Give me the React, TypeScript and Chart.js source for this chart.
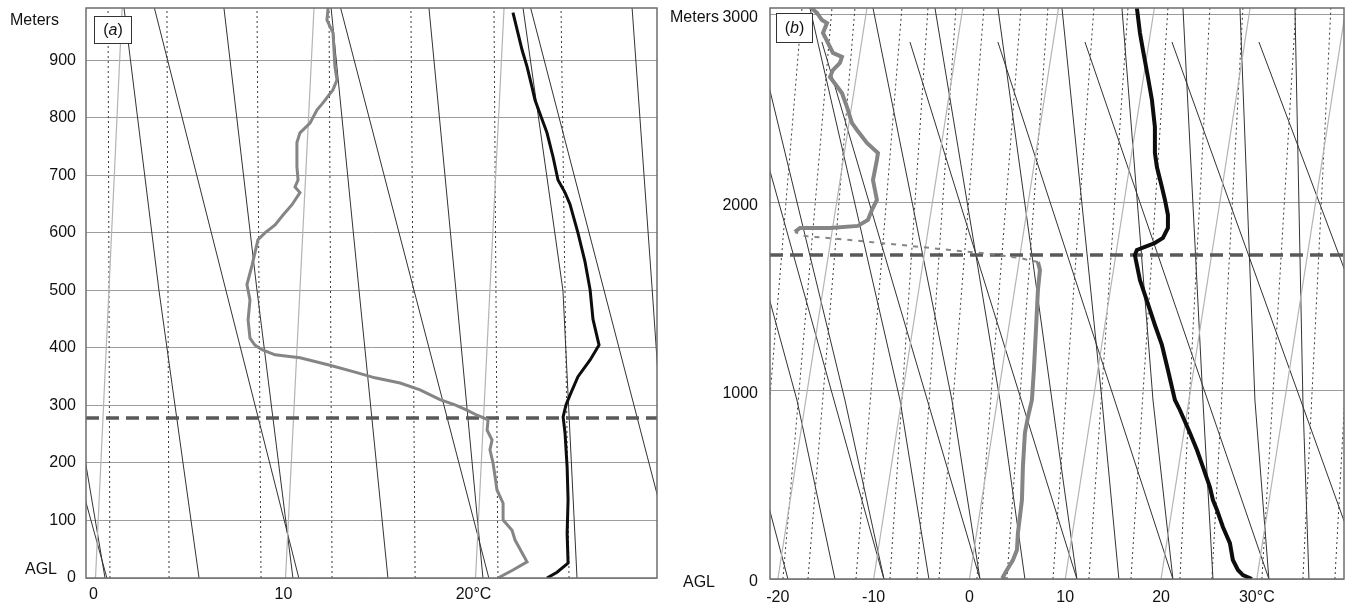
import React, { useEffect, useRef } from "react";
import { Chart, registerables } from "chart.js";

Chart.register(...registerables);

const FONT = "'Liberation Sans', Arial, Helvetica, sans-serif";

// ---------------- Panel (a) ----------------
const xMinA = -0.5;
const xMaxA = 29.55;
const yMaxA = 991;
const mixedLayerA = 278;
const xTicksA = [0, 10, 20];
const yTicksA = [0, 100, 200, 300, 400, 500, 600, 700, 800, 900];

const tempHA = [0, 10, 26, 78, 136, 193, 252, 280, 301, 318, 350, 379, 405, 450, 501, 550, 600, 650, 670, 692, 732, 774, 802, 831, 854, 889, 918, 983];
const tempA = [23.76, 24.29, 24.87, 24.82, 24.87, 24.82, 24.71, 24.61, 24.76, 24.97, 25.39, 26.03, 26.5, 26.18, 26.03, 25.76, 25.39, 24.97, 24.71, 24.34, 24.08, 23.76, 23.45, 23.13, 22.97, 22.71, 22.45, 21.97];

const dewHA = [0, 14, 28, 66, 83, 101, 130, 153, 176, 200, 223, 240, 257, 275, 283, 292, 301, 310, 327, 339, 348, 358, 370, 383, 388, 397, 405, 417, 449, 483, 510, 544, 588, 600, 614, 631, 649, 670, 680, 692, 715, 757, 774, 791, 814, 826, 849, 866, 889, 948, 970, 991];
const dewA = [21.18, 21.97, 22.71, 22.08, 21.92, 21.45, 21.45, 21.13, 21.03, 20.92, 20.76, 20.87, 20.61, 20.66, 20.08, 19.55, 18.92, 18.13, 17.08, 16.03, 14.71, 13.66, 12.34, 10.76, 9.45, 8.76, 8.39, 8.13, 8.03, 8.13, 7.97, 8.24, 8.55, 8.92, 9.45, 9.87, 10.34, 10.76, 10.5, 10.66, 10.6, 10.6, 10.76, 11.29, 11.66, 11.97, 12.5, 12.71, 12.6, 12.5, 12.18, 12.24];

const isoBottomA = [0, 10, 20];
const isoTopA = [1.4, 11.5, 21.5];
const mixBottomA = [0.76, 3.87, 8.71, 12.45, 16.82, 21.18, 24.92];
const mixTopA = [0.66, 3.76, 8.5, 12.29, 16.6, 20.97, 24.5];
const dryBottomA = [0.6, 10.7, 20.7, 30.7];
const dryTopA = [-7.7, 3.1, 12.9, 22.9];
const moistMidHA = 500;
const moistBottomA = [0.5, 5.45, 10.39, 15.39, 20.39, 25.34, 30.34];
const moistMidA = [-2.05, 3.34, 8.5, 13.87, 18.97, 24.6, 29.3];
const moistTopA = [-4.6, 1.5, 6.76, 12.4, 17.55, 22.5, 28.24];

// ---------------- Panel (b) ----------------
const xMinB = -20.82;
const xMaxB = 39.1;
const yMaxB = 3037;
const mixedLayerB = 1723;
const xTicksB = [-20, -10, 0, 10, 20, 30];
const yTicksB = [0, 1000, 2000, 3000];

const tempHB = [0, 21, 48, 101, 191, 277, 367, 420, 489, 596, 686, 777, 899, 952, 1112, 1245, 1351, 1431, 1511, 1590, 1670, 1723, 1750, 1766, 1787, 1814, 1867, 1936, 2016, 2085, 2191, 2266, 2404, 2548, 2670, 2814, 2904, 3037];
const tempB = [29.49, 28.55, 28.03, 27.5, 27.19, 26.46, 25.84, 25.42, 25.1, 24.37, 23.75, 23.02, 21.97, 21.45, 20.72, 20.09, 19.36, 18.84, 18.32, 17.8, 17.48, 17.27, 17.48, 18.32, 19.36, 20.2, 20.72, 20.72, 20.41, 20.09, 19.57, 19.36, 19.36, 19.05, 18.63, 18.11, 17.8, 17.48];

const dewHB = [0, 11, 48, 101, 154, 245, 420, 596, 777, 862, 952, 1112, 1324, 1537, 1644, 1686, 1707, 1729, 1750, 1777, 1803, 1824, 1846, 1867, 1867, 1878, 1910, 1963, 2016, 2122, 2229, 2266, 2319, 2388, 2426, 2511, 2585, 2670, 2707, 2745, 2777, 2798, 2851, 2904, 2957, 2973, 3011, 3037];
const dewB = [3.71, 3.5, 3.91, 4.54, 4.96, 5.06, 5.48, 5.58, 5.79, 6.11, 6.52, 6.73, 6.94, 7.15, 7.36, 7.15, 5.27, 2.14, -2.04, -7.25, -12.47, -17.17, -18.22, -17.69, -14.56, -11.64, -10.6, -10.18, -9.66, -10.07, -9.66, -9.55, -10.7, -11.74, -12.27, -12.79, -13.31, -14.56, -14.25, -13.52, -13.31, -14.25, -14.77, -15.29, -14.87, -15.4, -15.92, -16.5];

const isoBottomB = [-20, -10, 0, 10, 20, 30];
const isoTopB = [-10.7, -0.7, 9.3, 19.3, 29.3, 39.3];
const mixBottomB = [-22.39, -19.47, -16.86, -11.85, -8.3, -5.48, -3.18, 0.78, 3.91, 8.72, 12.47, 16.86, 21.97, 25.31, 30.53, 34.81, 38.15];
const mixTopB = [-17.48, -14.35, -11.95, -7.05, -4.33, -1.41, 1.51, 5.38, 8.19, 12.99, 16.55, 20.72, 25.1, 28.55, 34.08, 37.73, 41.4];
const dryTopHB = 2856;
const dryBottomB = [-18.95, -8.93, 1.1, 11.22, 21.24, 31.26, 41.28, 51.3];
const dryTopB = [-33.77, -24.58, -15.4, -6.21, 2.97, 12.06, 21.14, 30.22];
const moistMidHB = 952;
const moistBottomB = [-14.04, -8.92, -4.23, 1.1, 5.79, 11.22, 15.6, 21.24, 25.42, 31.26, 35.44];
const moistMidB = [-18.01, -13.0, -7.25, -1.83, 3.18, 8.61, 13.83, 19.16, 24.37, 29.8, 34.81];
const moistTopB = [-29.18, -22.91, -16.65, -10.07, -3.6, 2.97, 9.66, 15.92, 22.29, 28.24, 33.98];

// ---------------- helpers ----------------
type Pt = { x: number; y: number };
const pts = (xs: number[], ys: number[]): Pt[] => xs.map((x, i) => ({ x: x, y: ys[i] }));

function family(bottom: number[], top: number[], hTop: number, style: any, mid?: number[], hMid?: number) {
  return bottom.map((b, i) => ({
    data: mid
      ? [{ x: b, y: 0 }, { x: mid[i], y: hMid as number }, { x: top[i], y: hTop }]
      : [{ x: b, y: 0 }, { x: top[i], y: hTop }],
    showLine: true,
    pointRadius: 0,
    order: 10,
    ...style,
  }));
}

const isoStyle = { borderColor: "#b4b4b4", borderWidth: 1.2 };
const mixStyle = { borderColor: "#3a3a3a", borderWidth: 1, borderDash: [2, 3] };
const adStyle = { borderColor: "#333333", borderWidth: 1 };

function decor(o: any) {
  return {
    id: "decor" + o.tag,
    afterDatasetsDraw(chart: any) {
      const { ctx, chartArea: a } = chart;
      ctx.save();
      ctx.strokeStyle = "#6e6e6e";
      ctx.lineWidth = 1.5;
      ctx.strokeRect(a.left, a.top, a.right - a.left, a.bottom - a.top);
      const [bx, by, bw, bh] = o.box;
      ctx.fillStyle = "#ffffff";
      ctx.fillRect(bx, by, bw, bh);
      ctx.strokeStyle = "#333";
      ctx.lineWidth = 1;
      ctx.strokeRect(bx + 0.5, by + 0.5, bw, bh);
      ctx.fillStyle = "#111";
      ctx.textBaseline = "middle";
      const fN = `16px ${FONT}`;
      const fI = `italic 16px ${FONT}`;
      ctx.font = fN;
      const wp = ctx.measureText("(").width;
      const wq = ctx.measureText(")").width;
      ctx.font = fI;
      const wt = ctx.measureText(o.tag).width;
      let x = bx + (bw - (wp + wt + wq)) / 2 + 0.5;
      const y = by + bh / 2 + 1;
      ctx.textAlign = "left";
      ctx.font = fN;
      ctx.fillText("(", x, y);
      x += wp;
      ctx.font = fI;
      ctx.fillText(o.tag, x, y);
      x += wt;
      ctx.font = fN;
      ctx.fillText(")", x, y);
      ctx.font = `16px ${FONT}`;
      ctx.fillText("Meters", o.meters[0], o.meters[1]);
      ctx.fillText("AGL", o.agl[0], o.agl[1]);
      ctx.restore();
    },
  };
}

function makeConfig(p: any): any {
  const datasets: any[] = [
    {
      data: pts(p.temp, p.tempH),
      showLine: true,
      pointRadius: 0,
      borderColor: "#0d0d0d",
      borderWidth: p.profileWidth,
      order: 0,
    },
    {
      data: pts(p.dew, p.dewH),
      showLine: true,
      pointRadius: 0,
      borderColor: "#858585",
      borderWidth: p.profileWidth,
      order: 1,
      segment: p.dewSegment,
    },
    {
      data: [
        { x: p.xMin, y: p.mixed },
        { x: p.xMax, y: p.mixed },
      ],
      showLine: true,
      pointRadius: 0,
      borderColor: "#595959",
      borderWidth: 3.5,
      borderDash: [13, 7],
      order: 2,
    },
    ...p.background,
  ];
  return {
    type: "scatter",
    data: { datasets },
    options: {
      animation: false,
      responsive: false,
      devicePixelRatio: 1,
      events: [],
      layout: { padding: { top: 8, right: p.padRight, left: 0, bottom: 0 } },
      plugins: { legend: { display: false }, tooltip: { enabled: false } },
      elements: { line: { tension: 0 }, point: { radius: 0 } },
      scales: {
        x: {
          type: "linear",
          min: p.xMin,
          max: p.xMax,
          afterBuildTicks: (s: any) => {
            s.ticks = p.xTicks.map((v: number) => ({ value: v }));
          },
          afterFit: (s: any) => {
            s.height = p.xAxisH;
            s.paddingLeft = 0;
            s.paddingRight = 0;
            s.paddingTop = 0;
            s.paddingBottom = 0;
          },
          grid: { display: false, drawTicks: false },
          border: { display: false },
          ticks: {
            autoSkip: false,
            maxRotation: 0,
            padding: p.xPad,
            labelOffset: p.xLabelOffset,
            color: "#111",
            font: { family: FONT, size: 16 },
            callback: (v: any) => (v === p.unitTick ? `${v}°C` : `${v}`),
          },
        },
        y: {
          type: "linear",
          min: 0,
          max: p.yMax,
          afterBuildTicks: (s: any) => {
            s.ticks = p.yTicks.map((v: number) => ({ value: v }));
          },
          afterFit: (s: any) => {
            s.width = p.yAxisW;
            s.paddingTop = 0;
            s.paddingBottom = 0;
            s.paddingLeft = 0;
            s.paddingRight = 0;
          },
          grid: { color: "#9c9c9c", lineWidth: 1, drawTicks: false },
          border: { display: false },
          ticks: {
            padding: p.yPad,
            labelOffset: p.yLabelOffset,
            color: "#111",
            font: { family: FONT, size: 16 },
            callback: (v: any) => `${v}`,
          },
        },
      },
    },
    plugins: [decor(p.decor)],
  };
}

const configA = () =>
  makeConfig({
    temp: tempA,
    tempH: tempHA,
    dew: dewA,
    dewH: dewHA,
    profileWidth: 3,
    mixed: mixedLayerA,
    xMin: xMinA,
    xMax: xMaxA,
    yMax: yMaxA,
    xTicks: xTicksA,
    yTicks: yTicksA,
    unitTick: 20,
    padRight: 11,
    xAxisH: 31,
    yAxisW: 86,
    xPad: 7,
    yPad: 10,
    xLabelOffset: -2,
    yLabelOffset: 0,
    background: [
      ...family(isoBottomA, isoTopA, yMaxA, isoStyle),
      ...family(mixBottomA, mixTopA, yMaxA, mixStyle),
      ...family(dryBottomA, dryTopA, yMaxA, adStyle),
      ...family(moistBottomA, moistTopA, yMaxA, adStyle, moistMidA, moistMidHA),
    ],
    decor: { tag: "a", box: [94, 16, 37, 27], meters: [10, 21], agl: [25, 570] },
  });

const configB = () =>
  makeConfig({
    temp: tempB,
    tempH: tempHB,
    dew: dewB,
    dewH: dewHB,
    profileWidth: 4,
    dewSegment: {
      borderWidth: (c: any) => (c.p0DataIndex >= 15 && c.p0DataIndex <= 21 ? 2 : undefined),
      borderDash: (c: any) => (c.p0DataIndex >= 15 && c.p0DataIndex <= 21 ? [5, 6] : undefined),
    },
    mixed: mixedLayerB,
    xMin: xMinB,
    xMax: xMaxB,
    yMax: yMaxB,
    xTicks: xTicksB,
    yTicks: yTicksB,
    unitTick: 30,
    padRight: 8,
    xAxisH: 30,
    yAxisW: 102,
    xPad: 9,
    yPad: 12,
    xLabelOffset: 0,
    yLabelOffset: 3,
    background: [
      ...family(isoBottomB, isoTopB, yMaxB, isoStyle),
      ...family(mixBottomB, mixTopB, yMaxB, mixStyle),
      ...family(dryBottomB, dryTopB, dryTopHB, adStyle),
      ...family(moistBottomB, moistTopB, yMaxB, adStyle, moistMidB, moistMidHB),
    ],
    decor: { tag: "b", box: [108, 13, 36, 29], meters: [2, 18], agl: [15, 583] },
  });

function Panel({ make, left, width }: { make: () => any; left: number; width: number }) {
  const ref = useRef<HTMLCanvasElement>(null);
  useEffect(() => {
    const chart = new Chart(ref.current as HTMLCanvasElement, make());
    return () => chart.destroy();
  }, [make]);
  return (
    <canvas
      ref={ref}
      width={width}
      height={609}
      style={{ position: "absolute", left, top: 0, width, height: 609 }}
    />
  );
}

export default function App() {
  return (
    <div
      style={{
        position: "fixed",
        left: 0,
        top: 0,
        width: 1352,
        height: 609,
        background: "#ffffff",
        overflow: "hidden",
      }}
    >
      <Panel make={configA} left={0} width={668} />
      <Panel make={configB} left={668} width={684} />
    </div>
  );
}
